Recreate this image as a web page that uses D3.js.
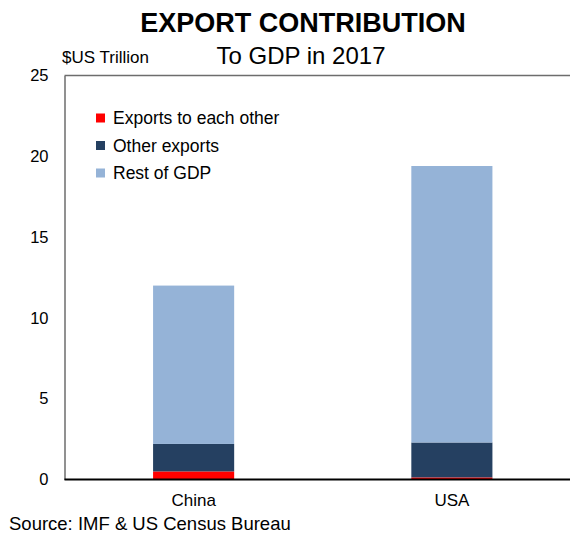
<!DOCTYPE html>
<html>
<head>
<meta charset="utf-8">
<script src="https://cdn.jsdelivr.net/npm/d3@7"></script>
<style>
  body { margin: 0; background: #fff; }
  svg { font-family: "Liberation Sans", Arial, sans-serif; }
</style>
</head>
<body>
<svg id="chart" width="570" height="535"></svg>
<script>
// Export contribution to GDP, 2017 ($US trillion)
const categories = ["China", "USA"];
const seriesNames = ["Exports to each other", "Other exports", "Rest of GDP"];
const exportsToEachOther = [0.50, 0.13];
const otherExports = [1.70, 2.16];
const restOfGDP = [9.80, 17.11];
const yTicks = [0, 5, 10, 15, 20, 25];
const colors = ["#ff0000", "#254061", "#95b3d7"];

const rows = categories.map((c, i) => ({
  category: c,
  "Exports to each other": exportsToEachOther[i],
  "Other exports": otherExports[i],
  "Rest of GDP": restOfGDP[i]
}));

const svg = d3.select("#chart");
const plotLeft = 64.5, plotRight = 581, plotTop = 75.5, plotBottom = 479.5;
const fontFamily = "Liberation Sans, Arial, sans-serif";

const x = d3.scaleBand().domain(categories).range([plotLeft, plotRight]).paddingInner(0.686).paddingOuter(0.343);
const y = d3.scaleLinear().domain([0, 25]).range([plotBottom, plotTop]);
const color = d3.scaleOrdinal().domain(seriesNames).range(colors);

const stack = d3.stack().keys(seriesNames)(rows);

// stacked bars
svg.append("g").selectAll("g").data(stack).join("g")
  .attr("fill", d => color(d.key))
  .selectAll("rect").data(d => d).join("rect")
  .attr("x", d => x(d.data.category))
  .attr("width", x.bandwidth())
  .attr("y", d => y(d[1]))
  .attr("height", d => y(d[0]) - y(d[1]));

// frame: top line
svg.append("line").attr("x1", plotLeft).attr("x2", 570).attr("y1", plotTop).attr("y2", plotTop)
  .attr("stroke", "#6d6d6d").attr("stroke-width", 1.5);

// y axis
const yAxis = svg.append("g").attr("transform", `translate(${plotLeft},0)`)
  .call(d3.axisLeft(y).tickValues(yTicks).tickSize(0).tickPadding(16));
yAxis.select(".domain").attr("stroke", "#6d6d6d").attr("stroke-width", 1.5);
yAxis.selectAll("text").attr("font-size", 16.5).attr("fill", "#000")
  .attr("font-family", fontFamily);

// x axis
const xAxis = svg.append("g").attr("transform", `translate(0,${plotBottom})`)
  .call(d3.axisBottom(x).tickSize(0).tickPadding(14));
xAxis.select(".domain").attr("stroke", "#000").attr("stroke-width", 2)
  .attr("d", `M${plotLeft},0H570`);
xAxis.selectAll("text").attr("font-size", 17).attr("fill", "#000")
  .attr("font-family", fontFamily);

// legend
const legend = svg.append("g").selectAll("g").data(seriesNames).join("g")
  .attr("transform", (d, i) => `translate(96,${118 + i * 27.5})`);
legend.append("rect").attr("x", 0).attr("y", -4.5).attr("width", 9).attr("height", 9)
  .attr("fill", d => color(d));
legend.append("text").attr("x", 17).attr("y", 6).attr("font-size", 17.5).text(d => d);

// titles
svg.append("text").attr("x", 303).attr("y", 32).attr("text-anchor", "middle")
  .attr("font-size", 27).attr("font-weight", "bold").text("EXPORT CONTRIBUTION");
svg.append("text").attr("x", 301).attr("y", 64).attr("text-anchor", "middle")
  .attr("font-size", 24).text("To GDP in 2017");
svg.append("text").attr("x", 62).attr("y", 63).attr("font-size", 17).text("$US Trillion");

// source
svg.append("text").attr("x", 9).attr("y", 530).attr("font-size", 18.5).text("Source: IMF & US Census Bureau");
</script>
</body>
</html>
